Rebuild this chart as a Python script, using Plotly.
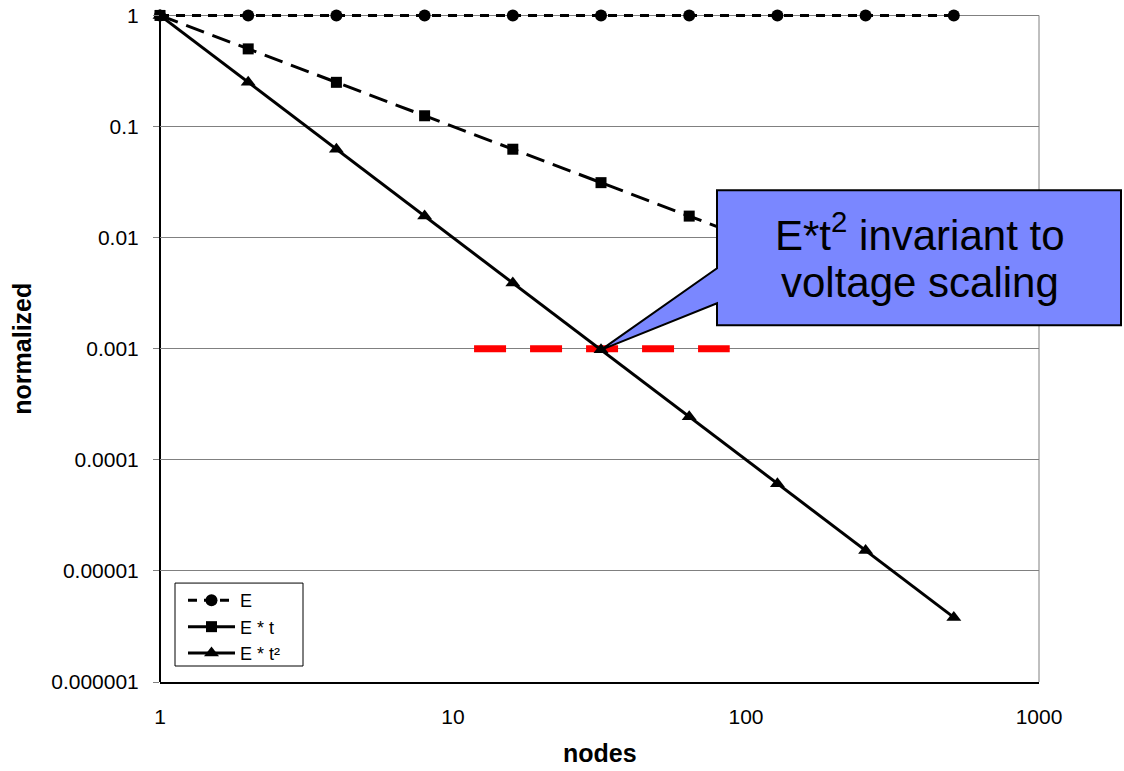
import math
import plotly.graph_objects as go

# ---- data ----
nodes = [1, 2, 4, 8, 16, 32, 64, 128, 256, 512]
E = [1, 1, 1, 1, 1, 1, 1, 1, 1, 1]
E_t = [1, 0.5, 0.25, 0.125, 0.0625, 0.03125, 0.015625, 0.0078125, 0.00390625, 0.001953125]
E_t2 = [1, 0.25, 0.0625, 0.015625, 0.00390625, 0.0009765625, 0.000244140625,
        6.103515625e-05, 1.52587890625e-05, 3.814697265625e-06]
series_names = ["E", "E * t", "E * t²"]

ref_x = [11.8, 88]
ref_y = [0.001, 0.001]

x_tickvals = [1, 10, 100, 1000]
x_ticktext = ["1", "10", "100", "1000"]
y_tickvals = [1e-6, 1e-5, 1e-4, 1e-3, 1e-2, 1e-1, 1]
y_ticktext = ["0.000001", "0.00001", "0.0001", "0.001", "0.01", "0.1", "1"]

callout_lines = ["E*t<sup>2</sup> invariant to", "voltage scaling"]

FONT = "Liberation Sans, Arial, sans-serif"

fig = go.Figure()

# red reference dashed line
fig.add_trace(go.Scatter(
    x=ref_x, y=ref_y, mode="lines", showlegend=False, hoverinfo="skip",
    line=dict(color="#FF0000", width=7, dash="32px,24px"),
))

fig.add_trace(go.Scatter(
    x=nodes, y=E, name=series_names[0], mode="lines+markers", cliponaxis=False,
    line=dict(color="black", width=3, dash="9px,7px"),
    marker=dict(symbol="circle", size=12, color="black"),
))
fig.add_trace(go.Scatter(
    x=nodes, y=E_t, name=series_names[1], mode="lines+markers", cliponaxis=False,
    line=dict(color="black", width=3, dash="19px,9px"),
    marker=dict(symbol="square", size=11, color="black"),
))
fig.add_trace(go.Scatter(
    x=nodes, y=E_t2, name=series_names[2], mode="lines+markers", cliponaxis=False,
    line=dict(color="black", width=3),
    marker=dict(symbol="triangle-up", size=13, color="black"),
))

# ---- layout geometry ----
W, H = 1124, 771
L, R, B = 160, 85, 89
TOP_PX = 15                      # pixel row of y = 1
YMIN, YTOP = -6.0, 0.04          # small headroom so the y=1 line is not clipped
px_per_dec = (H - B - TOP_PX) / (0 - YMIN)
T = TOP_PX - (YTOP - 0) * px_per_dec
pw, ph = W - L - R, H - T - B


def px_to_paper(px, py):
    return (px - L) / pw, 1 - (py - T) / ph


y_one_paper = px_to_paper(0, TOP_PX)[1]

# callout polygon (box + pointer), pointer tip at data point (32, 0.001)
tip_xp = math.log10(nodes[5]) / 3.0
tip_yp = (math.log10(E_t2[5]) - YMIN) / (YTOP - YMIN)
bx0, by0 = px_to_paper(717, 190)
bx1, by1 = px_to_paper(1121, 325)
_, pa = px_to_paper(0, 268)
_, pb = px_to_paper(0, 303)
path = (f"M {bx0},{by0} L {bx1},{by0} L {bx1},{by1} L {bx0},{by1} "
        f"L {bx0},{pb} L {tip_xp},{tip_yp} L {bx0},{pa} Z")

lgx0, lgy0 = px_to_paper(175, 583)
lgx1, lgy1 = px_to_paper(303, 666)

shapes = [
    # right plot border (gray)
    dict(type="line", xref="paper", yref="paper", x0=1, x1=1, y0=0, y1=y_one_paper,
         line=dict(color="#808080", width=1), layer="below"),
    # left axis line (black)
    dict(type="line", xref="paper", yref="paper", x0=0, x1=0, y0=0, y1=y_one_paper,
         line=dict(color="black", width=2), layer="below"),
    # legend frame
    dict(type="rect", xref="paper", yref="paper", x0=lgx0, x1=lgx1, y0=lgy1, y1=lgy0,
         fillcolor="white", line=dict(color="black", width=1), layer="above"),
    # callout
    dict(type="path", xref="paper", yref="paper", path=path,
         fillcolor="#7A87FF", line=dict(color="black", width=2), layer="above"),
]

annotations = []
cx, _ = px_to_paper(920, 0)
_, ly1 = px_to_paper(0, 232)
_, ly2 = px_to_paper(0, 282)
for txt, yy in zip(callout_lines, [ly1, ly2]):
    annotations.append(dict(
        text=txt, xref="paper", yref="paper", x=cx, y=yy,
        xanchor="center", yanchor="middle", showarrow=False,
        font=dict(family=FONT, size=42, color="black"),
    ))

# axis titles
annotations.append(dict(
    text="<b>nodes</b>", xref="paper", yref="paper", x=0.5, y=px_to_paper(0, 753)[1],
    xanchor="center", yanchor="middle", showarrow=False,
    font=dict(family=FONT, size=25, color="black"),
))
annotations.append(dict(
    text="<b>normalized</b>", xref="paper", yref="paper", x=px_to_paper(22, 0)[0],
    y=px_to_paper(0, 348.5)[1],
    xanchor="center", yanchor="middle", showarrow=False, textangle=-90,
    font=dict(family=FONT, size=25, color="black"),
))

fig.update_layout(
    width=W, height=H,
    margin=dict(l=L, r=R, t=T, b=B, autoexpand=False),
    paper_bgcolor="white", plot_bgcolor="white",
    font=dict(family=FONT, size=21, color="black"),
    shapes=shapes,
    annotations=annotations,
    legend=dict(
        x=px_to_paper(183, 0)[0], y=px_to_paper(0, 582)[1],
        xanchor="left", yanchor="top",
        bgcolor="rgba(0,0,0,0)", borderwidth=0,
        font=dict(family=FONT, size=18, color="black"),
        tracegroupgap=0, itemwidth=47,
    ),
    xaxis=dict(
        type="log", range=[0, 3],
        tickvals=x_tickvals, ticktext=x_ticktext,
        showgrid=False, zeroline=False,
        showline=True, linecolor="black", linewidth=2,
        ticks="", ticklabelstandoff=15,
        tickfont=dict(size=21, color="black"),
    ),
    yaxis=dict(
        type="log", range=[YMIN, YTOP],
        tickvals=y_tickvals, ticktext=y_ticktext,
        showgrid=True, gridcolor="#808080", gridwidth=1,
        zeroline=False, showline=False,
        ticks="outside", ticklen=6, tickcolor="#808080",
        ticklabelstandoff=10,
        tickfont=dict(size=21, color="black"),
    ),
    hovermode=False,
)

fig.write_html("out.html")
